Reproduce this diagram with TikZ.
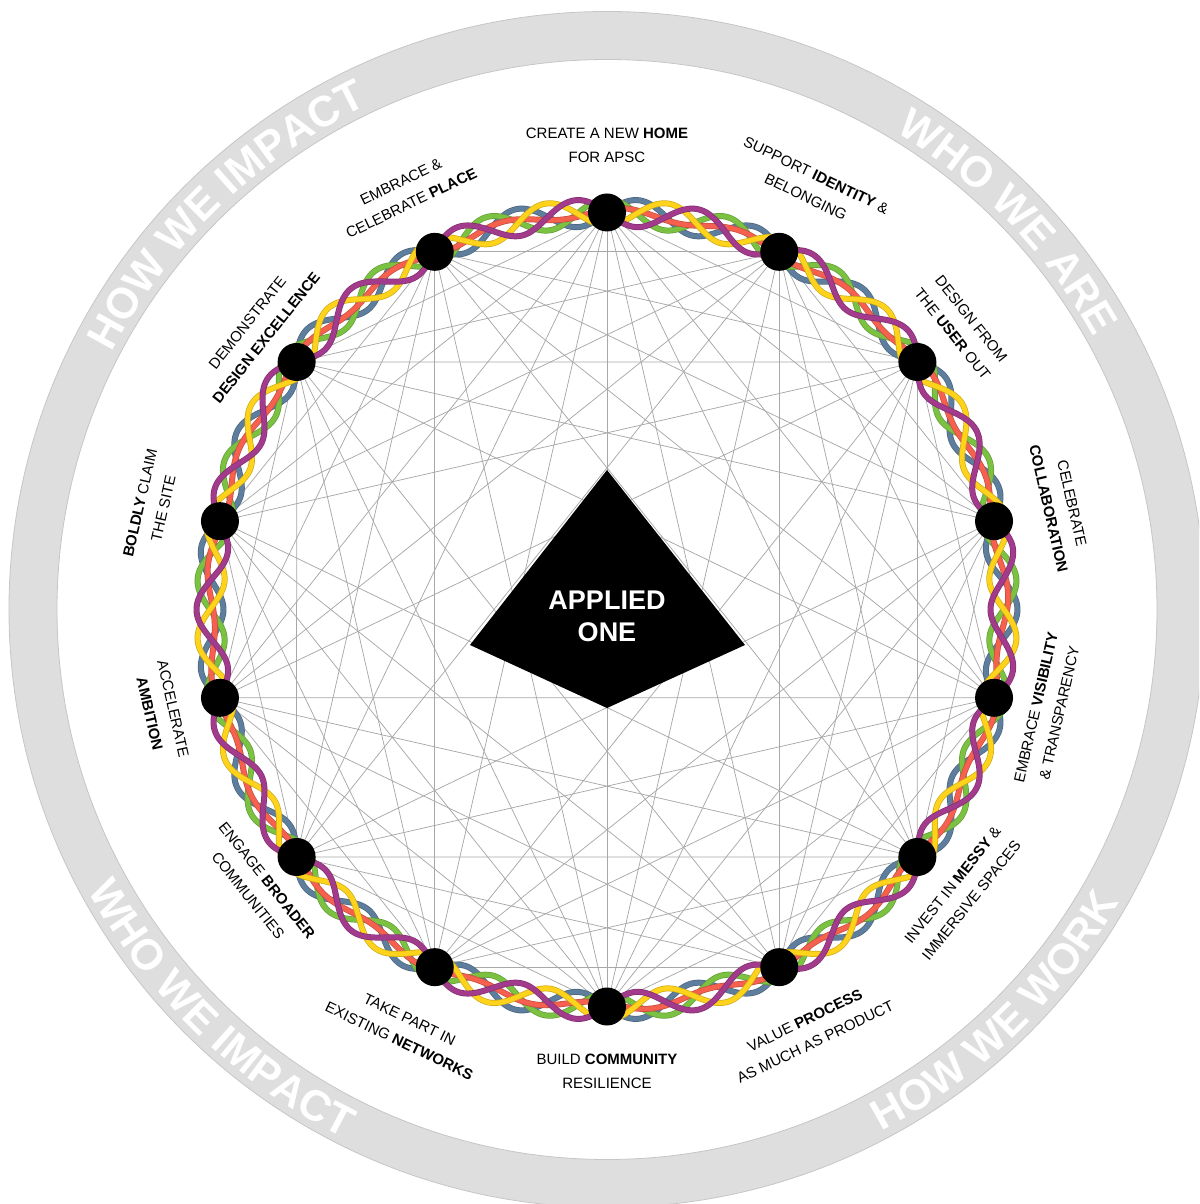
\documentclass[tikz,border=0pt]{standalone}
\usepackage{fontspec}
\setmainfont{Liberation Sans}
\usetikzlibrary{decorations.text}
\pgfdeclarelayer{bg}
\pgfdeclarelayer{braid}
\pgfsetlayers{bg,braid,main}
\definecolor{ringgray}{HTML}{DEDEDE}
\definecolor{ringedge}{HTML}{C6C6C6}
\definecolor{chord}{HTML}{A8A8A8}
\definecolor{sgreen}{HTML}{7CC242}
\definecolor{sblue}{HTML}{5E7E9E}
\definecolor{sred}{HTML}{F5614E}
\definecolor{syellow}{HTML}{FFD31C}
\definecolor{spurple}{HTML}{A33B8D}
\newcommand\ringtextfont{\fontsize{43}{43}\selectfont\bfseries\color{white}}
\begin{document}
\begin{tikzpicture}[x=1pt,y=1pt,
  dot/.style={circle,fill=black,minimum size=38pt,inner sep=0pt},
  lbl/.style={align=center,font=\fontsize{15}{24}\selectfont,inner sep=0pt},
  chordline/.style={draw=chord,line width=0.75pt},
  strand/.style={line join=round,line cap=round},
  ringtext/.style={decorate,decoration={text along path,text align=center,text={|\ringtextfont|#1}}}]
\useasboundingbox (-607,-594.5) rectangle (592,609.5);
\clip (-607,-594.5) rectangle (592,609.5);
% outer ring
\fill[ringgray,even odd rule] (0,0) circle[radius=598] (0,0) circle[radius=550];
\draw[ringedge,line width=0.8pt] (0,0) circle[radius=598] (0,0) circle[radius=550];
\path[ringtext={HOW WE IMPACT}] (165:558) arc[start angle=165,end angle=103,radius=558];
\path[ringtext={WHO WE ARE}] (74:558) arc[start angle=74,end angle=14,radius=558];
\path[ringtext={HOW WE WORK}] (-76:590) arc[start angle=-76,end angle=-16,radius=590];
\path[ringtext={WHO WE IMPACT}] (195:590) arc[start angle=195,end angle=257,radius=590];
% nodes
\foreach \k in {0,...,13}{
  \node[dot] (n\k) at ({90-\k*360/14}:397) {};
}
% chords: every pair of non-neighbours, except the slanted diameters and 3--11
\begin{pgfonlayer}{bg}
\foreach \i in {0,...,11}{
  \pgfmathtruncatemacro\s{\i+2}
  \foreach \j in {\s,...,13}{
    \pgfmathtruncatemacro\d{\j-\i}
    \pgfmathtruncatemacro\skip{(\i==0 && \j==13) || (\d==7 && \i>0) || (\i==3 && \j==11) ? 1 : 0}
    \ifnum\skip=0 \draw[chordline] (n\i.center) -- (n\j.center);\fi
  }
}
\end{pgfonlayer}
% braid
\begin{pgfonlayer}{braid}
\foreach \col/\ph/\amp in {sblue/90/13.5,sgreen/0/13.5,sred/45/4.5,syellow/180/13.5,spurple/270/13.5}{
  \draw[strand,draw=\col!80!black,line width=6pt] plot[domain=0:360,samples=1081]
    ({(397+\amp*sin(21*\x+\ph))*cos(\x)},{(397+\amp*sin(21*\x+\ph))*sin(\x)});
  \draw[strand,draw=\col,line width=4.6pt] plot[domain=0:360,samples=1081]
    ({(397+\amp*sin(21*\x+\ph))*cos(\x)},{(397+\amp*sin(21*\x+\ph))*sin(\x)});
}
\end{pgfonlayer}
% centre
\fill[black] (0,139.5) -- (138,-35.5) -- (0,-98.5) -- (-137,-35.5) -- cycle;
\node[font=\fontsize{27}{32}\selectfont\bfseries,text=white,align=center] (core) at (0,-7) {APPLIED\\ONE};
% labels
\foreach \k/\r/\txt in {
  0/464/{CREATE A NEW \textbf{HOME}\\FOR APSC},
  1/470/{SUPPORT \textbf{IDENTITY} \&\\BELONGING},
  2/454/{DESIGN FROM\\THE \textbf{USER} OUT},
  3/465/{CELEBRATE\\\textbf{COLLABORATION}},
  4/452/{EMBRACE \textbf{VISIBILITY}\\\& TRANSPARENCY},
  5/454/{INVEST IN \textbf{MESSY} \&\\IMMERSIVE SPACES},
  6/468/{VALUE \textbf{PROCESS}\\AS MUCH AS PRODUCT},
  7/462/{BUILD \textbf{COMMUNITY}\\RESILIENCE},
  8/467/{TAKE PART IN\\EXISTING \textbf{NETWORKS}},
  9/447/{ENGAGE \textbf{BROADER}\\COMMUNITIES},
  10/457/{ACCELERATE\\\textbf{AMBITION}},
  11/467/{\textbf{BOLDLY} CLAIM\\THE SITE},
  12/448/{DEMONSTRATE\\\textbf{DESIGN EXCELLENCE}},
  13/463/{EMBRACE \&\\CELEBRATE \textbf{PLACE}}}{
  \pgfmathsetmacro\ang{90-\k*360/14}
  \ifnum\k>3 \ifnum\k<11 \pgfmathsetmacro\rot{\ang+90}\else\pgfmathsetmacro\rot{\ang-90}\fi
  \else \pgfmathsetmacro\rot{\ang-90}\fi
  \node[lbl,rotate=\rot] (t\k) at (\ang:\r) {\txt};
}
\end{tikzpicture}
\end{document}
